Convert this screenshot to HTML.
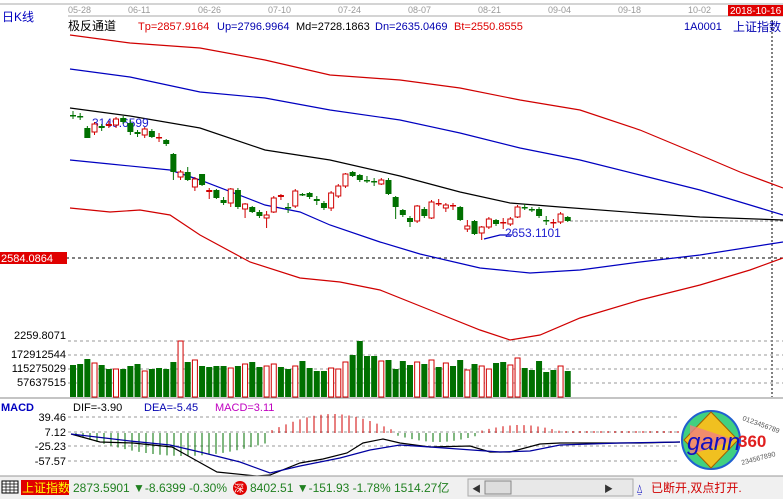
<!DOCTYPE html>
<html><head><meta charset="utf-8"><style>
body{margin:0;width:783px;height:499px;overflow:hidden;background:#fff;font-family:"Liberation Sans","Noto Sans CJK SC",sans-serif}
svg{position:absolute;left:0;top:0}
text{font-family:"Liberation Sans","Noto Sans CJK SC",sans-serif}
</style></head><body>
<svg id="s" width="783" height="499" viewBox="0 0 783 499" xmlns="http://www.w3.org/2000/svg">
<rect x="0" y="0" width="783" height="499" fill="#fff"/>
<line x1="0" y1="4" x2="783" y2="4" stroke="#aaa"/>
<line x1="68" y1="16" x2="783" y2="16" stroke="#aaa"/>
<g font-size="9" fill="#999">
<text x="68" y="13">05-28</text><text x="128" y="13">06-11</text><text x="198" y="13">06-26</text><text x="268" y="13">07-10</text><text x="338" y="13">07-24</text><text x="408" y="13">08-07</text><text x="478" y="13">08-21</text><text x="548" y="13">09-04</text><text x="618" y="13">09-18</text><text x="688" y="13">10-02</text></g>
<rect x="728" y="5" width="55" height="11" fill="#e00000"/>
<text x="730" y="14" font-size="10" fill="#fff">2018-10-16</text>
<text x="2" y="21" font-size="12" fill="#0000c0">日K线</text>
<text x="68" y="30" font-size="12" fill="#000">极反通道</text>
<g font-size="11"><text x="138" y="30" fill="#d00">Tp=2857.9164</text><text x="217" y="30" fill="#0000b0">Up=2796.9964</text><text x="296" y="30" fill="#000">Md=2728.1863</text><text x="375" y="30" fill="#0000b0">Dn=2635.0469</text><text x="454" y="30" fill="#d00">Bt=2550.8555</text>
<text x="684" y="30" fill="#0000b0">1A0001</text></g>
<text x="733" y="31" font-size="12" fill="#0000b0">上证指数</text>
<line x1="772" y1="20" x2="772" y2="397" stroke="#000" stroke-dasharray="2,2"/>
<line x1="0" y1="258" x2="783" y2="258" stroke="#000" stroke-dasharray="3,3"/>
<line x1="570" y1="221" x2="783" y2="221" stroke="#888" stroke-dasharray="3,2"/>
<rect x="0" y="252" width="67" height="12" fill="#e00000"/>
<text x="1" y="262" font-size="11" fill="#fff">2584.0864</text>
<g fill="none" stroke-width="1.2">
<polyline stroke="#d00000" points="70,35 130,43 200,48 265,60 330,75 400,80 460,88 520,100 580,110 640,130 700,155 740,172 783,188"/>
<polyline stroke="#0000c0" points="70,69 130,77 200,92 265,98 330,110 400,120 460,133 520,148 580,160 640,175 700,190 750,205 783,215"/>
<polyline stroke="#000" points="70,108 130,116 200,128 265,150 330,160 400,176 460,192 510,203 560,207 640,213 700,217 783,220"/>
<polyline stroke="#0000c0" points="70,160 110,164 170,170 200,180 265,205 300,212 330,225 380,242 420,254 480,268 530,273 580,270 640,262 700,255 783,242"/>
<polyline stroke="#d00000" points="70,208 110,212 140,210 170,215 200,235 250,262 300,278 340,282 380,290 430,310 480,330 510,340 540,335 580,318 640,300 700,285 750,270 783,258"/>
<polyline stroke="#0000c0" points="484,239 500,235 512,235"/>
</g>
<text x="92" y="127" font-size="12" fill="#2020d0">3149.6599</text>
<text x="505" y="237" font-size="12" fill="#2020d0">2653.1101</text>
<g id="k"></g>
<g stroke="#999" stroke-dasharray="3,3">
<line x1="68" y1="341" x2="783" y2="341"/><line x1="68" y1="355" x2="783" y2="355"/><line x1="68" y1="369" x2="783" y2="369"/><line x1="68" y1="383" x2="783" y2="383"/>
<line x1="68" y1="417" x2="680" y2="417"/><line x1="68" y1="432" x2="680" y2="432"/><line x1="68" y1="446" x2="680" y2="446"/><line x1="68" y1="461" x2="680" y2="461"/>
</g>
<g font-size="11" fill="#000" text-anchor="end" font-family="Liberation Mono">
<text x="66" y="339">2259.8071</text><text x="66" y="358">172912544</text><text x="66" y="372">115275029</text><text x="66" y="386">57637515</text>
<text x="66" y="421">39.46</text><text x="66" y="436">7.12</text><text x="66" y="450">-25.23</text><text x="66" y="465">-57.57</text></g>
<g id="v"></g>
<line x1="0" y1="398" x2="783" y2="398" stroke="#888"/>
<text x="1" y="411" font-size="11" fill="#0000c0" font-weight="bold">MACD</text>
<text x="73" y="411" font-size="11" fill="#000">DIF=-3.90</text>
<text x="144" y="411" font-size="11" fill="#0000b0">DEA=-5.45</text>
<text x="215" y="411" font-size="11" fill="#c000c0">MACD=3.11</text>
<g id="h"></g>
<g fill="none" stroke-width="1.2">
<polyline stroke="#000" points="71,434 100,442 133,443 172,447 190,457 217,472 257,476 270,475 300,463 323,459 347,453 363,443 383,439 400,443 430,447 470,446 490,452 510,452 540,444 560,443 640,443 680,442"/>
<polyline stroke="#0000a0" points="71,434 130,441 170,445 200,452 240,462 270,473 300,466 340,458 370,450 400,445 430,447 500,452 530,451 560,445 620,443 680,442"/>
</g>
<g>
<circle cx="711" cy="440" r="29" fill="#40d080" stroke="#2060d0" stroke-width="2"/>
<polygon points="711,412 738,440 711,468 684,440" fill="#f0c020" stroke="#a06000"/>
<polygon points="690,425 735,440 690,455" fill="#f08080" opacity="0.8"/>
<text x="687" y="450" font-size="24" font-style="italic" fill="#1010c0" font-family="Liberation Serif">gann</text>
<text x="738" y="447" font-size="17" fill="#e02020" font-weight="bold">360</text>
<text x="742" y="420" font-size="7" fill="#555" transform="rotate(20 742 420)">0123456789</text>
<text x="742" y="465" font-size="7" fill="#555" transform="rotate(-15 742 465)">234567890</text>
</g>
<rect x="0" y="476" width="783" height="23" fill="#f0f0f0"/>
<line x1="0" y1="476" x2="783" y2="476" stroke="#999"/>
<rect x="2" y="481" width="16" height="12" fill="#fff" stroke="#000"/>
<path d="M2 484h16M2 487h16M2 490h16M6 481v12M10 481v12M14 481v12" stroke="#000" stroke-width="0.7"/>
<rect x="21" y="480" width="48" height="15" fill="#e00000"/>
<text x="22" y="492" font-size="12" fill="#ff0">上证指数</text>
<g font-size="12" fill="#208020"><text x="73" y="492">2873.5901 ▼-8.6399 -0.30%</text>
<text x="250" y="492">8402.51 ▼-151.93 -1.78% 1514.27亿</text></g>
<circle cx="240" cy="488" r="7" fill="#e00000"/><text x="234" y="492" font-size="10" fill="#fff">深</text>
<rect x="468" y="479" width="165" height="17" fill="#e8e8e8" stroke="#aaa"/>
<rect x="485" y="481" width="26" height="13" fill="#ddd" stroke="#888"/>
<text x="472" y="492" font-size="9" fill="#333">◀</text><text x="604" y="492" font-size="9" fill="#333">▶</text>
<text x="636" y="493" font-size="12" fill="#0000c0">⍙</text>
<text x="651" y="492" font-size="12" fill="#d00000">已断开,双点打开.</text>
</svg>
<script>
var NS="http://www.w3.org/2000/svg";
function el(p,t,a){var e=document.createElementNS(NS,t);for(var k in a)e.setAttribute(k,a[k]);document.getElementById(p).appendChild(e);}
var K=[[115,115,'g',111,119],[116,116,'g',113,120],[128,138,'g',126,138],[124,132,'r',122,135],[126,128,'g',124,131],[124,126,'r',121,128],[119,125,'r',117,128],[118,122,'g',116,124],[123,132,'g',120,135],[132,134,'g',130,137],[129,135,'r',127,138],[131,137,'g',129,138],[137,137,'r',133,142],[140,144,'g',139,146],[154,172,'g',153,180],[172,177,'r',170,180],[172,180,'g',167,181],[179,187,'r',177,191],[174,185,'g',174,186],[190,192,'r',188,199],[190,198,'g',189,199],[200,203,'g',197,205],[189,203,'r',188,207],[190,207,'g',188,209],[204,209,'r',203,218],[207,212,'g',206,213],[212,216,'g',210,218],[215,218,'r',211,228],[198,212,'r',196,213],[195,197,'r',194,200],[207,207,'g',203,213],[191,206,'r',189,208],[194,195,'g',193,196],[193,197,'g',192,199],[199,201,'g',196,205],[203,208,'g',201,210],[193,208,'r',191,211],[186,196,'r',184,198],[174,186,'r',173,188],[172,176,'g',171,177],[175,180,'g',174,182],[180,181,'g',176,183],[181,181,'g',178,186],[180,184,'r',178,185],[180,194,'g',178,195],[197,207,'g',196,219],[210,215,'g',209,217],[218,222,'g',216,227],[206,221,'r',205,223],[209,216,'g',207,218],[202,218,'r',200,219],[203,204,'r',199,206],[205,208,'r',203,212],[205,206,'r',203,210],[207,220,'g',206,221],[226,229,'r',220,232],[221,234,'g',220,235],[227,233,'r',226,240],[219,227,'r',217,229],[220,224,'g',219,226],[222,223,'r',218,229],[219,224,'r',217,226],[207,217,'r',205,218],[207,208,'g',204,210],[209,210,'g',207,212],[209,216,'g',207,218],[220,221,'g',216,225],[222,223,'r',219,228],[214,222,'r',212,224],[217,221,'g',216,222]];
var V=[365,364,359,363,365,369,369,369,366,364,371,369,368,369,362,341,362,360,366,367,366,366,368,366,364,362,367,366,364,367,369,366,361,368,371,371,368,369,362,355,341,356,356,361,360,369,361,365,362,364,360,367,363,366,360,370,364,366,369,363,362,365,358,368,370,361,372,370,366,371,378];
for(var i=0;i<K.length;i++){var x=73+i*7.17,c=K[i],col=c[2]=='r'?'#d00000':'#007000';
 el('k','line',{x1:x,y1:c[3],x2:x,y2:c[4],stroke:col});
 var h=Math.max(1,c[1]-c[0]);
 if(c[2]=='r'&&h>2)el('k','rect',{x:x-2.5,y:c[0],width:5,height:h,fill:'#fff',stroke:col});
 else el('k','rect',{x:x-3,y:c[0],width:6,height:Math.max(1.5,h),fill:col});
 var vt=V[i]||370;
 if(c[2]=='r'&&h>2)el('v','rect',{x:x-2.5,y:vt,width:5,height:397-vt,fill:'#fff',stroke:'#d00000'});
 else el('v','rect',{x:x-3,y:vt,width:6,height:397-vt,fill:'#007000'});
}
for(var x=76;x<680;x+=7){var z=433,v;
 if(x<270){v=(x-76)/194;v=Math.sin(v*Math.PI*0.9)*20+3;el('h','line',{x1:x,y1:z,x2:x,y2:z+v,stroke:'#007000'});}
 else if(x<395){v=Math.sin((x-270)/125*Math.PI)*17+2;el('h','line',{x1:x,y1:z,x2:x,y2:z-v,stroke:'#d00000'});}
 else if(x<480){v=Math.sin((x-395)/85*Math.PI)*7+2;el('h','line',{x1:x,y1:z,x2:x,y2:z+v,stroke:'#007000'});}
 else {v=(x<560?Math.sin((x-480)/80*Math.PI)*6:0)+2;el('h','line',{x1:x,y1:z,x2:x,y2:z-v,stroke:'#d00000'});}
}
</script>
</body></html>
